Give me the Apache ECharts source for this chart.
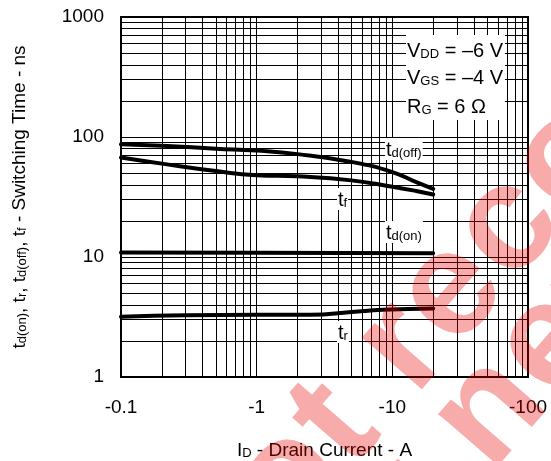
<!DOCTYPE html>
<html><head><meta charset="utf-8">
<script src="https://cdn.jsdelivr.net/npm/echarts/dist/echarts.min.js"></script>
<style>html,body{margin:0;padding:0;background:#fff}#c{width:551px;height:461px}</style>
</head><body><div id="c"></div>
<script>
// ---- data ----
const xTickValues = [0.1, 1, 10, 100];          // labelled as -0.1 ... -100
const yTickValues = [1, 10, 100, 1000];
const xGridValues = [0.2,0.3,0.4,0.5,0.6,0.7,0.8,0.9,1,2,3,4,5,6,7,8,9,10,20,30,40,50,60,70,80,90];
const yGridValues = [2,3,4,5,6,7,8,9,10,20,30,40,50,60,70,80,90,100,200,300,400,500,600,700,800,900];

const tdoffCurrent = [0.1, 0.2, 0.5, 1, 2, 5, 10, 15, 20];
const tdoffTime    = [87, 84.5, 80, 77, 72, 62, 51, 42, 37];
const tfCurrent    = [0.1, 0.2, 0.5, 1, 2, 5, 10, 15, 20];
const tfTime       = [67.5, 60, 52, 48, 47, 43.5, 38.5, 35.5, 33.2];
const tdonCurrent  = [0.1, 1, 20];
const tdonTime     = [10.9, 10.85, 10.75];
const trCurrent    = [0.1, 0.3, 1, 2.5, 5, 8.5, 20];
const trTime       = [3.18, 3.27, 3.3, 3.3, 3.48, 3.64, 3.73];

const pairs = (xs, ys) => xs.map((x, i) => [x, ys[i]]);
const FONT = 'Arial, "Liberation Sans", sans-serif';

const chart = echarts.init(document.getElementById('c'), null, {renderer: 'canvas'});

const curveStyle = {color: '#000', width: 4, cap: 'round', join: 'round'};
function curve(name, xs, ys) {
  return {name, type: 'line', data: pairs(xs, ys), smooth: 0.5, showSymbol: false, symbol: 'none',
    lineStyle: curveStyle, z: 5, silent: true, animation: false};
}

// ---- watermark (decoration) ----
const wmFont = 'bold 150px ' + FONT;
const cv = document.createElement('canvas').getContext('2d');
cv.font = wmFont;
const TRACK = 3, ANG = 49 * Math.PI / 180;
const ux = Math.cos(ANG), uy = -Math.sin(ANG);
function wmLine(text, anchorIdx, ax, ay) {
  const centers = []; let s = 0;
  for (const ch of text) { const w = cv.measureText(ch).width; centers.push(s + w / 2); s += w + TRACK; }
  const base = centers[anchorIdx];
  return [...text].map((ch, i) => ({
    type: 'text', z: 200, silent: true,
    x: ax + (centers[i] - base) * ux, y: ay + (centers[i] - base) * uy, rotation: ANG,
    style: {text: ch, font: wmFont, fill: 'rgba(235,0,0,0.33)', align: 'center', verticalAlign: 'middle'}
  }));
}
const watermark = [].concat(wmLine('not recommended', 2, 336, 425), wmLine('for new designs', 4, 490, 412));

const richMain = {fontSize: 20, fontFamily: FONT, color: '#000', lineHeight: 22, verticalAlign: 'bottom'};
const richSub = {fontSize: 13, fontFamily: FONT, color: '#000', lineHeight: 16, verticalAlign: 'bottom'};
function label(text, x, y, bg) {
  return {type: 'text', z: 100, silent: true, x, y,
    style: {text, rich: {m: richMain, s: richSub}, align: 'left', verticalAlign: 'middle',
      backgroundColor: bg ? '#fff' : null, padding: [0, 1, 0, 1]}};
}

const option = {
  animation: false,
  backgroundColor: '#fff',
  grid: {left: 121, right: 23, top: 17, bottom: 84, show: true, borderColor: '#000', borderWidth: 2,
    backgroundColor: 'transparent', containLabel: false, outerBoundsMode: 'none'},
  xAxis: {
    type: 'log', logBase: 10, min: 0.1, max: 100, splitNumber: 3,
    axisLine: {show: false}, axisTick: {show: false}, splitLine: {show: false},
    axisLabel: {margin: 21, fontSize: 19, fontFamily: FONT, color: '#000', formatter: v => '-' + String(v), showMinLabel: true, showMaxLabel: true},
    name: '{m|I}{s|D}{m| - Drain Current - A}', nameLocation: 'middle', nameGap: 61,
    nameTextStyle: {rich: {m: {fontSize: 19, fontFamily: FONT, color: '#000', lineHeight: 22, verticalAlign: 'bottom'},
                           s: {fontSize: 13, fontFamily: FONT, color: '#000', lineHeight: 16, verticalAlign: 'bottom'}}}
  },
  yAxis: {
    type: 'log', logBase: 10, min: 1, max: 1000, splitNumber: 3,
    axisLine: {show: false}, axisTick: {show: false}, splitLine: {show: false},
    axisLabel: {margin: 17, fontSize: 19, fontFamily: FONT, color: '#000', formatter: v => String(v)},
    name: '{m|t}{s|d(on)}{m|, t}{s|r}{m|, t}{s|d(off)}{m|, t}{s|f}{m| - Switching Time - ns}',
    nameLocation: 'middle', nameRotate: 90, nameGap: 92,
    nameTextStyle: {rich: {m: {fontSize: 19, fontFamily: FONT, color: '#000', lineHeight: 22, verticalAlign: 'bottom'},
                           s: {fontSize: 13, fontFamily: FONT, color: '#000', lineHeight: 16, verticalAlign: 'bottom'}}}
  },
  series: [
    {name: 'grid', type: 'line', data: [[1, 1]], symbol: 'none', lineStyle: {opacity: 0}, z: 1, silent: true,
      markLine: {silent: true, symbol: ['none', 'none'], label: {show: false}, animation: false,
        lineStyle: {color: '#000', width: 1, type: 'solid'},
        emphasis: {disabled: true},
        data: xGridValues.map(v => ({xAxis: v})).concat(yGridValues.map(v => ({yAxis: v})))}},
    curve('td(off)', tdoffCurrent, tdoffTime),
    curve('tf', tfCurrent, tfTime),
    curve('td(on)', tdonCurrent, tdonTime),
    curve('tr', trCurrent, trTime)
  ],
  graphic: [
    {type: 'rect', z: 99, silent: true, shape: {x: 406, y: 35, width: 99, height: 85}, style: {fill: '#fff'}},
    label('{m|V}{s|DD}{m| = –6 V}', 406, 50, false),
    label('{m|V}{s|GS}{m| = –4 V}', 406, 77, false),
    label('{m|R}{s|G}{m| = 6 Ω}', 406, 106, false),
    label('{m|t}{s|d(off)}', 385, 149, true),
    label('{m|t}{s|f}', 337, 199, true),
    label('{m|t}{s|d(on)}', 385, 232, true),
    label('{m|t}{s|r}', 337, 332, true)
  ].concat(watermark)
};
chart.setOption(option);
</script></body></html>
